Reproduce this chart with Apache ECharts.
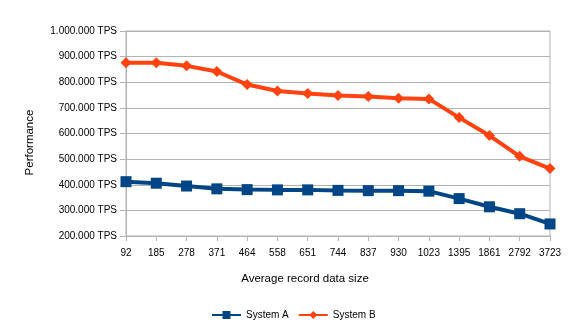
<!DOCTYPE html>
<html><head><meta charset="utf-8">
<script src="https://cdn.jsdelivr.net/npm/echarts@6/dist/echarts.min.js"></script>
<style>html,body{margin:0;padding:0;background:#fff}#c{width:578px;height:330px}</style>
</head><body><div id="c"></div>
<script>
const categories = ['92','185','278','371','464','558','651','744','837','930','1023','1395','1861','2792','3723'];
const systemA = [412000,406000,395000,384000,381000,380000,380000,378000,377000,377000,375000,346000,314000,287000,247000];
const systemB = [876000,876000,864000,842000,791000,766000,756000,748000,744000,738000,735000,662000,592000,511000,463000];
const seriesNames = ['System A','System B'];

function fmt(v){ return String(v).replace(/\B(?=(\d{3})+(?!\d))/g,'.') + ' TPS'; }
const font = 'Liberation Sans';
const chart = echarts.init(document.getElementById('c'));
chart.setOption({
  animation:false,
  textStyle:{fontFamily:font},
  grid:{left:126,right:28,top:31,bottom:94,show:true,borderColor:'#b3b3b3',borderWidth:1,backgroundColor:'transparent'},
  legend:{top:310,left:211,padding:0,itemWidth:29,itemHeight:10,itemGap:9,
    textStyle:{fontFamily:font,fontSize:10,color:'#000'},data:seriesNames},
  xAxis:{type:'category',data:categories,boundaryGap:false,
    name:'Average record data size',nameLocation:'middle',nameGap:37,
    nameTextStyle:{fontFamily:font,fontSize:11.5,color:'#000',padding:[0,66,0,0]},
    axisLine:{lineStyle:{color:'#b3b3b3'}},
    axisTick:{show:true,length:5,interval:0,lineStyle:{color:'#b3b3b3'}},
    axisLabel:{color:'#000',fontSize:10,fontFamily:font,margin:12,interval:0},
    splitLine:{show:false}},
  yAxis:{type:'value',min:200000,max:1000000,interval:100000,
    name:'Performance',nameLocation:'middle',nameGap:90,nameRotate:90,
    nameTextStyle:{fontFamily:font,fontSize:11.5,color:'#000',padding:[0,18,0,0]},
    axisLine:{show:true,lineStyle:{color:'#b3b3b3'}},
    axisTick:{show:true,length:6,lineStyle:{color:'#b3b3b3'}},
    axisLabel:{color:'#000',fontSize:10,fontFamily:font,margin:9,formatter:fmt},
    splitLine:{show:true,lineStyle:{color:'#b3b3b3',width:1}}},
  series:[
    {name:seriesNames[0],type:'line',data:systemA,symbol:'rect',symbolSize:11,
     lineStyle:{color:'#004586',width:4},itemStyle:{color:'#004586'}},
    {name:seriesNames[1],type:'line',data:systemB,symbol:'diamond',symbolSize:11,
     lineStyle:{color:'#ff420e',width:4},itemStyle:{color:'#ff420e'}}
  ]
});
</script></body></html>
